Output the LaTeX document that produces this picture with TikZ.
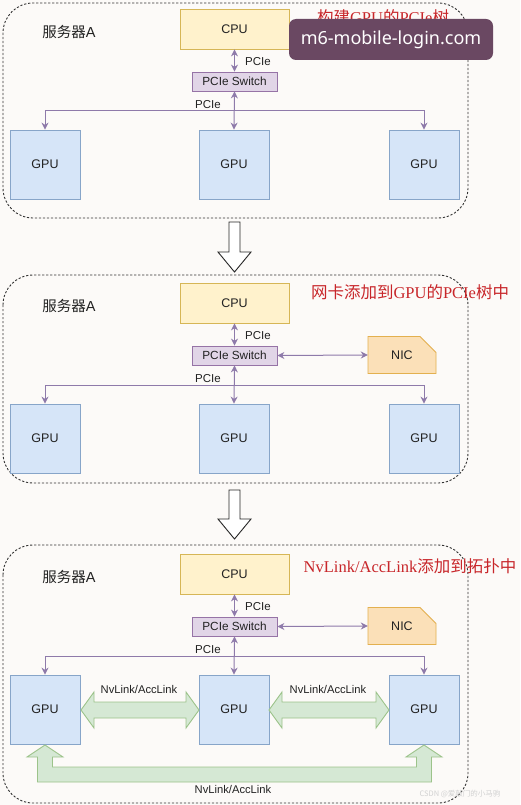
\documentclass[tikz,border=0pt]{standalone}
\usepackage{fontspec}
\setmainfont{Liberation Sans}
\newfontfamily\cjk{Noto Sans CJK SC}
\newfontfamily\rser{Liberation Serif}
\newfontfamily\wmfont{Noto Sans}
\usetikzlibrary{arrows.meta,calc}
\definecolor{bgc}{HTML}{FCFAF8}
\definecolor{cpuf}{HTML}{FFF2CC}
\definecolor{cpud}{HTML}{D6B656}
\definecolor{swf}{HTML}{E1D5E7}
\definecolor{swd}{HTML}{9673A6}
\definecolor{gpuf}{HTML}{D6E5F8}
\definecolor{gpud}{HTML}{87A5C9}
\definecolor{nicf}{HTML}{FBE0B8}
\definecolor{nicd}{HTML}{E3B04F}
\definecolor{grf}{HTML}{D5E8D4}
\definecolor{grd}{HTML}{9CC38A}
\definecolor{connc}{HTML}{8E7AAA}
\definecolor{redt}{HTML}{C8262A}
\definecolor{txt}{HTML}{222222}
\definecolor{wmc}{HTML}{6A4862}
\tikzset{
  cpubox/.style={draw=cpud, fill=cpuf, line width=0.8pt, minimum width=109pt, minimum height=40pt, inner sep=0pt, font=\fontsize{12.5}{14}\selectfont, text=txt},
  swbox/.style={draw=swd, fill=swf, line width=0.8pt, minimum width=85pt, minimum height=19pt, inner sep=0pt, font=\fontsize{11.8}{13}\selectfont, text=txt},
  gpubox/.style={draw=gpud, fill=gpuf, line width=0.8pt, minimum width=70pt, minimum height=69pt, inner sep=0pt, font=\fontsize{12.5}{14}\selectfont, text=txt},
  lbl/.style={font=\fontsize{11.5}{13}\selectfont, text=txt, inner sep=0pt},
  nvlbl/.style={font=\fontsize{11.2}{13}\selectfont, text=txt, inner sep=0pt},
  srvlbl/.style={font=\cjk\fontsize{14.5}{16}\selectfont, text=txt, inner sep=0pt},
  redlbl/.style={font=\fontsize{16.5}{18}\selectfont, text=redt, inner sep=0pt},
  conn/.style={draw=connc, line width=1pt, arrows={-Stealth[length=7pt,width=7pt]}},
  dconn/.style={draw=connc, line width=1pt, arrows={Stealth[length=7pt,width=7pt]-Stealth[length=7pt,width=7pt]}},
  panelbox/.style={draw=black!80, line width=0.9pt, dash pattern=on 2.2pt off 1.8pt, rounded corners=30pt},
  hollow/.style={draw=black!85, fill=white, line width=0.9pt},
  green/.style={draw=grd, fill=grf, line width=0.9pt},
  nicshape/.style={draw=nicd, fill=nicf, line width=0.9pt},
  niclbl/.style={font=\fontsize{12.5}{14}\selectfont, text=txt, inner sep=0pt},
}
\newcommand\srvpanel[1]{%
  \node[srvlbl] (srv#1) at (69,32) {服务器\fontspec{Liberation Sans}A};
  \node[cpubox] (cpu#1) at (234.5,29) {CPU};
  \node[swbox] (sw#1) at (234.5,81.5) {PCIe Switch};
  \node[gpubox] (ga#1) at (45,164.5) {GPU};
  \node[gpubox] (gb#1) at (234,164.5) {GPU};
  \node[gpubox] (gc#1) at (424,164.5) {GPU};
  \coordinate (bus#1) at (234.5,111);
  \draw[dconn] (cpu#1.south) -- (sw#1.north);
  \node[lbl] (pa#1) at (258,62) {PCIe};
  \draw[conn] (bus#1) -| (ga#1.north);
  \draw[conn] (bus#1) -| (gc#1.north);
  \draw[dconn] (sw#1.south) -- (gb#1.north);
  \node[lbl] (pb#1) at (208,105) {PCIe};
}
\newcommand\nicpart[1]{%
  \path[nicshape] (368,62.5) -- (420,62.5) -- (436,78.5) -- (436,99.5) -- (368,99.5) -- cycle;
  \node[niclbl, minimum width=68pt, minimum height=37pt] (nic#1) at (402,81) {NIC};
  \draw[dconn] (sw#1.east) -- (nic#1.west);
}
\begin{document}
\begin{tikzpicture}[x=1pt,y=-1pt]
\fill[bgc] (0,0) rectangle (520,805);
\useasboundingbox (0,0) rectangle (520,805);

% panel boxes
\draw[panelbox] (3,3) rectangle (468,218);
\draw[panelbox] (3,275) rectangle (468,483);
\draw[panelbox] (3,545) rectangle (468,803);

% panel 1
\begin{scope}
  \srvpanel{1}
\end{scope}
\node[redlbl] (t1) at (383,17) {{\cjk 构建}{\rser GPU}{\cjk 的}{\rser PCIe}{\cjk 树}};

% panel 2
\begin{scope}[shift={(0,274)}]
  \srvpanel{2}
  \nicpart{2}
\end{scope}
\node[redlbl] (t2) at (410,292) {{\cjk 网卡添加到}{\rser GPU}{\cjk 的}{\rser PCIe}{\cjk 树中}};

% panel 3
\begin{scope}[shift={(0,545)}]
  \srvpanel{3}
  \nicpart{3}
\end{scope}
\node[redlbl] (t3) at (410,566) {{\rser NvLink/AccLink}{\cjk 添加到拓扑中}};

% green NvLink arrows
\path[green] (81,710) -- (94,692) -- (94,702) -- (186,702) -- (186,692) -- (199,710) -- (186,728) -- (186,718) -- (94,718) -- (94,728) -- cycle;
\path[green] (269,710) -- (282,692) -- (282,702) -- (376,702) -- (376,692) -- (389,710) -- (376,728) -- (376,718) -- (282,718) -- (282,728) -- cycle;
\path[green] (45,745) -- (63,757) -- (52.5,757) -- (52.5,767) -- (416.5,767) -- (416.5,757) -- (406,757) -- (424,745) -- (442,757) -- (431.5,757) -- (431.5,782) -- (37.5,782) -- (37.5,757) -- (27,757) -- cycle;
\node[nvlbl] (nv1) at (139,689) {NvLink/AccLink};
\node[nvlbl] (nv2) at (328,689) {NvLink/AccLink};
\node[nvlbl] (nv3) at (233,789) {NvLink/AccLink};

% hollow down arrows
\path[hollow] (229,222) -- (240,222) -- (240,252) -- (251,252) -- (234.5,272) -- (218,252) -- (229,252) -- cycle;
\path[hollow] (229,490) -- (240,490) -- (240,519) -- (251,519) -- (234.5,539) -- (218,519) -- (229,519) -- cycle;

% watermark overlay
\node[fill=wmc, rounded corners=7pt, minimum width=204pt, minimum height=41pt, inner sep=0pt, text=white, font=\wmfont\fontsize{18}{20}\selectfont] (wm) at (391,39.5) {m6-mobile-login.com};
\node[text=black!18, inner sep=0pt, font=\cjk\fontsize{7.5}{8}\selectfont] (csdn) at (460,794) {CSDN @爱敲门的小马驹};
\end{tikzpicture}
\end{document}
